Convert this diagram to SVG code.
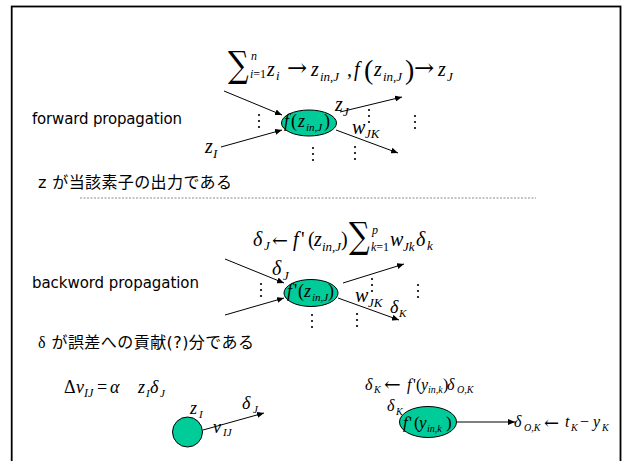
<svg xmlns="http://www.w3.org/2000/svg" width="625" height="461" viewBox="0 0 625 461">
<style>
.m{font-family:"Liberation Serif","Times New Roman",serif;font-style:italic;font-size:20px;fill:#000}
.u{font-style:normal}
.arw{font-family:"DejaVu Serif",serif;font-style:normal;fill:#000}
.sum{font-family:"DejaVu Serif",serif;font-style:normal;font-size:29px;fill:#000}
.s13{font-size:13px}.s12{font-size:12px}.s11{font-size:11px}.s10{font-size:10px}
.s18{font-size:18px}.s16{font-size:16px}.s17{font-size:17px}
.lab{font-family:"DejaVu Sans","Noto Sans",sans-serif;font-size:15px;fill:#000}
.jp{font-family:"DejaVu Sans","Noto Sans CJK JP",sans-serif;font-size:16px;fill:#000}
.ar{stroke:#000;stroke-width:1;fill:none;marker-end:url(#ah)}
.node{fill:#00CC99;stroke:#000;stroke-width:1}
.dot{fill:#000}
</style>
<defs>
<marker id="ah" markerUnits="userSpaceOnUse" markerWidth="8" markerHeight="6" refX="7" refY="3" orient="auto">
<path d="M0,0 L7,3 L0,6 z" fill="#000"/>
</marker>
<g id="vd"><circle cx="0" cy="0" r="1.1"/><circle cx="0" cy="6" r="1.1"/><circle cx="0" cy="12" r="1.1"/></g>
</defs>
<rect x="11.7" y="6.5" width="608.8" height="520" fill="#fff" stroke="#000" stroke-width="1.8"/>

<!-- forward section -->
<g id="forward-formula">
<text class="sum" transform="translate(228,77) scale(1,1.25)">∑</text>
<text class="m s12" x="251" y="60">n</text>
<text class="m s12" x="250" y="78">i<tspan class="u">=1</tspan></text>
<text class="m" x="267" y="76">z</text>
<text class="m s13" x="276" y="80">i</text>
<text class="arw" x="287" y="76" style="font-size:24px">→</text>
<text class="m" x="311" y="76">z</text>
<text class="m s13" x="320" y="81">in,J</text>
<text class="m u" x="347" y="76">,</text>
<text class="m" x="354" y="76">f</text>
<text class="m u" x="364" y="79" style="font-size:28px">(</text>
<text class="m" x="374" y="76">z</text>
<text class="m s13" x="383" y="81">in,J</text>
<text class="m u" x="405" y="79" style="font-size:28px">)</text>
<text class="arw" x="414" y="76" style="font-size:24px">→</text>
<text class="m" x="438" y="76">z</text>
<text class="m s13" x="447" y="81">J</text>
</g>
<text id="forward-label" class="lab" x="32" y="124" textLength="150">forward propagation</text>
<g id="forward-node">
<ellipse class="node" cx="309" cy="123" rx="27.5" ry="13"/>
<text class="m s18" x="284" y="127">f</text>
<text class="m u s18" x="291" y="127">(</text>
<text class="m s18" x="298" y="127">z</text>
<text class="m s11" x="306" y="131">in,J</text>
<text class="m u s18" x="324" y="127">)</text>
</g>
<g id="forward-labels">
<text class="m" x="335" y="111">z</text><text class="m s13" x="343" y="116">J</text>
<text class="m" x="352" y="134">w</text><text class="m s13" x="365" y="138">JK</text>
<text class="m" x="205" y="153">z</text><text class="m s13" x="213" y="158">I</text>
</g>
<g id="forward-dots" class="dot">
<use href="#vd" x="259" y="115"/><use href="#vd" x="313" y="148"/><use href="#vd" x="355" y="147"/><use href="#vd" x="369" y="110"/><use href="#vd" x="415" y="116"/>
</g>
<text id="note1" class="jp" x="38" y="188" textLength="194">z が当該素子の出力である</text>
<line x1="80" y1="198" x2="536" y2="198" stroke="#8a8a8a" stroke-width="1" stroke-dasharray="2,1.5"/>

<!-- backward section -->
<g id="backward-formula">
<text class="m" x="253" y="246">δ</text><text class="m s13" x="264" y="250">J</text>
<text class="arw" x="272" y="247" style="font-size:19px">←</text>
<text class="m" x="293" y="246">f</text><text class="m u" x="301" y="246">'</text>
<text class="m u" x="308" y="246">(</text>
<text class="m" x="314" y="246">z</text><text class="m s13" x="322" y="251">in,J</text>
<text class="m u" x="341" y="246">)</text>
<text class="sum" transform="translate(349,248) scale(1,1.25)">∑</text>
<text class="m s12" x="372" y="234">p</text>
<text class="m s12" x="371" y="251">k<tspan class="u">=1</tspan></text>
<text class="m" x="390" y="246">w</text><text class="m s13" x="403" y="251">Jk</text>
<text class="m" x="416" y="246">δ</text><text class="m s13" x="427" y="250">k</text>
</g>
<text id="backward-label" class="lab" x="32" y="288" textLength="167">backword propagation</text>
<g id="backward-node">
<ellipse class="node" cx="311" cy="293" rx="27" ry="13.5"/>
<text class="m s18" x="287" y="297">f</text><text class="m u s18" x="294" y="297">'</text>
<text class="m u s18" x="298" y="297">(</text>
<text class="m s18" x="304" y="297">z</text>
<text class="m s11" x="312" y="301">in,J</text>
<text class="m u s18" x="328" y="297">)</text>
</g>
<g id="backward-labels">
<text class="m" x="272" y="275">δ</text><text class="m s13" x="283" y="280">J</text>
<text class="m" x="355" y="302">w</text><text class="m s13" x="368" y="307">JK</text>
<text class="m s18" x="390" y="313">δ</text><text class="m s11" x="399" y="317">K</text>
</g>
<g id="backward-dots" class="dot">
<use href="#vd" x="261" y="284"/><use href="#vd" x="312" y="315"/><use href="#vd" x="357" y="314"/><use href="#vd" x="372" y="279"/><use href="#vd" x="418" y="285"/>
</g>
<text id="note2" class="jp" x="38" y="348" textLength="216"><tspan style="font-family:'Liberation Serif',serif">δ</tspan> が誤差への貢献(?)分である</text>

<!-- bottom left -->
<g id="update-formula">
<text class="m u s18" x="64" y="393">Δ</text>
<text class="m s18" x="76" y="393">v</text><text class="m s12" x="84" y="397">IJ</text>
<text class="m u s18" x="97" y="393">=</text>
<text class="m s18" x="110" y="393">α</text>
<text class="m s18" x="138" y="393">z</text><text class="m s11" x="146" y="397">I</text>
<text class="m s18" x="150" y="393">δ</text><text class="m s11" x="160" y="397">J</text>
</g>
<g id="unit-I">
<circle class="node" cx="187.5" cy="432" r="15"/>
<text class="m s18" x="190" y="414">z</text><text class="m s11" x="199" y="418">I</text>
<text class="m s18" x="213" y="433">v</text><text class="m s11" x="223" y="436">IJ</text>
<text class="m s18" x="242" y="409">δ</text><text class="m s11" x="253" y="413">J</text>
</g>

<!-- bottom right -->
<g id="output-formula">
<text class="m s16" x="365" y="390">δ</text><text class="m s10" x="374" y="393">K</text>
<text class="arw" x="384" y="391" style="font-size:20px">←</text>
<text class="m s16" x="407" y="390">f</text><text class="m u s16" x="413" y="390">'</text>
<text class="m u s16" x="416" y="390">(</text>
<text class="m s16" x="421" y="390">y</text><text class="m s10" x="428" y="393">in,k</text>
<text class="m u s16" x="443" y="390">)</text>
<text class="m s16" x="447" y="390">δ</text><text class="m s10" x="457" y="393">O,K</text>
</g>
<g id="output-node">
<ellipse class="node" cx="428" cy="422" rx="28.5" ry="15.5"/>
<text class="m s16" x="387" y="411">δ</text><text class="m s10" x="396" y="415">K</text>
<text class="m s17" x="403" y="428">f</text><text class="m u s17" x="409" y="428">'</text>
<text class="m u s17" x="414" y="428">(</text>
<text class="m s17" x="419" y="428">y</text><text class="m s10" x="427" y="432">in,k</text>
<text class="m u s17" x="446" y="428">)</text>
</g>
<g id="target-formula">
<text class="m s16" x="514" y="427">δ</text><text class="m s10" x="524" y="431">O,K</text>
<text class="arw" x="544" y="429" style="font-size:18px">←</text>
<text class="m s16" x="565" y="427">t</text><text class="m s10" x="571" y="431">K</text>
<text class="m u s16" x="580" y="427">−</text>
<text class="m s16" x="593" y="427">y</text><text class="m s10" x="602" y="431">K</text>
</g>

<g id="connectors">
<line class="ar" x1="224" y1="91" x2="282" y2="115"/>
<line class="ar" x1="221" y1="147" x2="282" y2="130"/>
<line class="ar" x1="340" y1="112" x2="402" y2="97"/>
<line class="ar" x1="336" y1="130" x2="398" y2="153"/>
<line class="ar" x1="225" y1="259" x2="284" y2="283"/>
<line class="ar" x1="225" y1="315" x2="284" y2="298"/>
<line class="ar" x1="343" y1="283" x2="404" y2="264"/>
<line class="ar" x1="338" y1="298" x2="399" y2="320"/>
<line class="ar" x1="203" y1="430" x2="264" y2="413"/>
<line class="ar" x1="457" y1="422" x2="515" y2="422"/>
</g>
</svg>
